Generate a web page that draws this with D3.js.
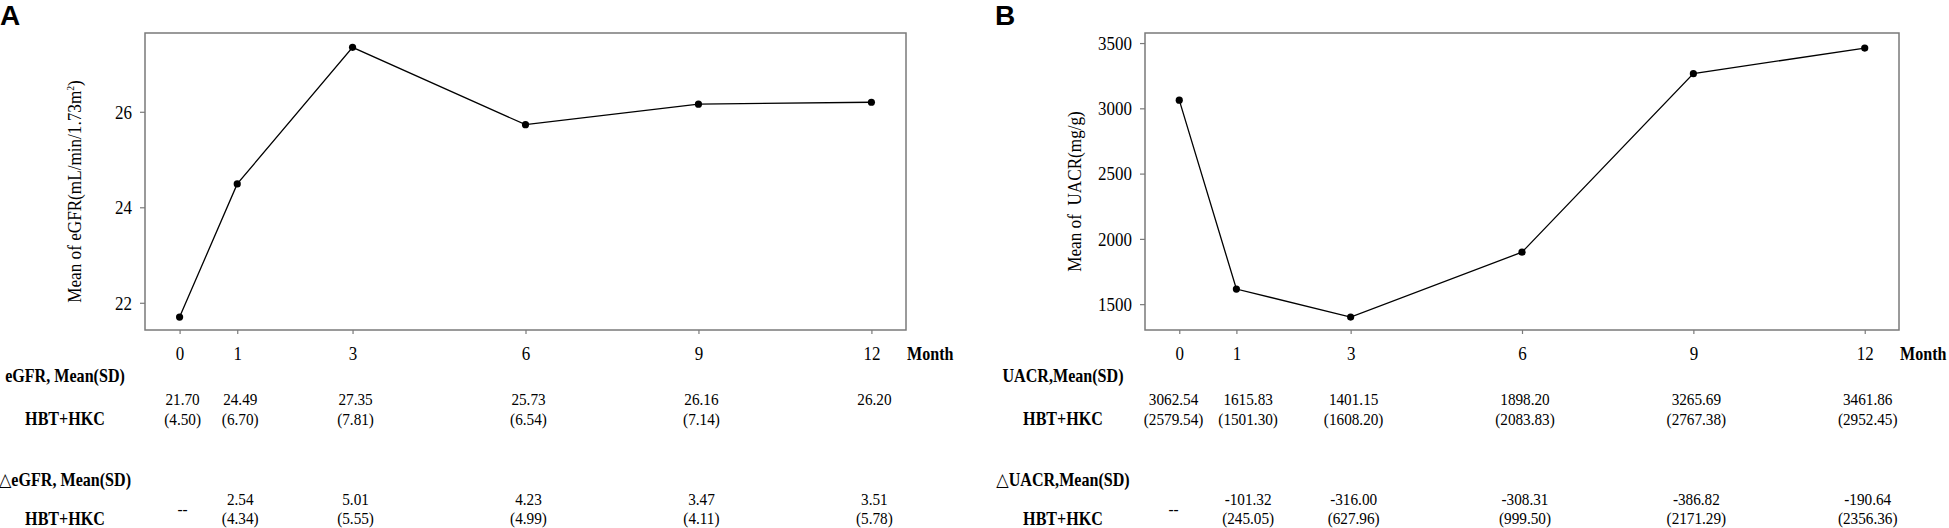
<!DOCTYPE html>
<html>
<head>
<meta charset="utf-8">
<script src="https://cdn.jsdelivr.net/npm/d3@7"></script>
<style>
  body { margin: 0; background: #fff; }
  svg { display: block; }
  .serif { font-family: "Liberation Serif", "Times New Roman", "DejaVu Serif", serif; fill: #000; }
  .axis path.domain { display: none; }
  .axis line { stroke: #7a7a7a; stroke-width: 1.2; }
</style>
</head>
<body>
<svg id="chart" width="1949" height="528"></svg>
<script>
var months = [0, 1, 3, 6, 9, 12];

var egfrMean = [21.70, 24.49, 27.35, 25.73, 26.16, 26.20];
var egfrSD = [4.50, 6.70, 7.81, 6.54, 7.14, null];
var egfrDelta = [null, 2.54, 5.01, 4.23, 3.47, 3.51];
var egfrDeltaSD = [null, 4.34, 5.55, 4.99, 4.11, 5.78];
var egfrTicks = [22, 24, 26];

var uacrMean = [3062.54, 1615.83, 1401.15, 1898.20, 3265.69, 3461.86];
var uacrSD = [2579.54, 1501.30, 1608.20, 2083.83, 2767.38, 2952.45];
var uacrDelta = [null, -101.32, -316.00, -308.31, -386.82, -190.64];
var uacrDeltaSD = [null, 245.05, 627.96, 999.50, 2171.29, 2356.36];
var uacrTicks = [1500, 2000, 2500, 3000, 3500];

var SX = 0.87
    , locale = d3.formatLocale({decimal: ".", thousands: ",", grouping: [3], currency: ["", ""], minus: "-"})
    , fmt = locale.format(".2f")
    , svg = d3.select("#chart");

function txt(g, x, y, s, o) {
    o = o || {};
    return g.append("text")
        .attr("class", "serif")
        .attr("transform", "translate(" + x + "," + y + ") rotate(" + (o.rot || 0) + ") scale(" + (o.sx || SX) + ",1)")
        .attr("text-anchor", o.anchor || "middle")
        .style("font-size", (o.size || 17.5) + "px")
        .style("font-weight", o.bold ? "bold" : "normal")
        .text(s);
}

function panel(cfg) {
    var g = svg.append("g");

    var x = d3.scaleLinear().domain([-0.6, 12.6]).range([cfg.left, cfg.right]);
    var y = d3.scaleLinear().domain(cfg.yDomain).range([cfg.bottom, cfg.top]);

    // panel letter
    g.append("text")
        .attr("x", cfg.letterX).attr("y", 25)
        .style("font-family", "'Liberation Sans', Arial, sans-serif")
        .style("font-weight", "bold")
        .style("font-size", "28px")
        .text(cfg.letter);

    var xAxis = d3.axisBottom(x)
        .tickValues(months)
        .tickSizeInner(4)
        .tickSizeOuter(0)
        .tickPadding(12)
        .tickFormat(d3.format("d"));

    var yAxis = d3.axisLeft(y)
        .tickValues(cfg.yTicks)
        .tickSizeInner(5)
        .tickSizeOuter(0)
        .tickPadding(8)
        .tickFormat(d3.format("d"));

    var gx = g.append("g")
        .attr("class", "axis axis--x")
        .attr("transform", "translate(0," + cfg.bottom + ")")
        .call(xAxis);

    var gy = g.append("g")
        .attr("class", "axis axis--y")
        .attr("transform", "translate(" + cfg.left + ",0)")
        .call(yAxis);

    [gx, gy].forEach(function(a) {
        a.selectAll("text")
            .attr("class", "serif")
            .attr("fill", "#000")
            .style("font-size", "19.5px")
            .attr("transform", "scale(" + SX + ",1)");
    });
    gy.selectAll("text").attr("x", -13 / SX);

    // frame
    g.append("rect")
        .attr("x", cfg.left).attr("y", cfg.top)
        .attr("width", cfg.right - cfg.left)
        .attr("height", cfg.bottom - cfg.top)
        .attr("fill", "none")
        .attr("stroke", "#7a7a7a")
        .attr("stroke-width", 1.5);

    txt(g, cfg.right + 1, 360, "Month", {anchor: "start", size: 18.5, bold: true});

    // y title
    var title = txt(g, cfg.left - 64, (cfg.top + cfg.bottom) / 2 + 10, "", {rot: -90, size: 19.5, sx: 0.88});
    title.text(cfg.title);
    if (cfg.sup) {
        title.append("tspan").attr("dy", -7).style("font-size", "11px").text(cfg.sup);
        title.append("tspan").attr("dy", 7).text(")");
    }

    // series
    var pts = months.map(function(m, i) { return {m: m, v: cfg.mean[i]}; });
    var line = d3.line()
        .x(function(d) { return x(d.m); })
        .y(function(d) { return y(d.v); });

    g.append("path")
        .datum(pts)
        .attr("fill", "none")
        .attr("stroke", "#000")
        .attr("stroke-width", 1.3)
        .attr("d", line);

    g.selectAll("circle.pt")
        .data(pts)
        .enter()
        .append("circle")
        .attr("class", "pt")
        .attr("cx", function(d) { return x(d.m); })
        .attr("cy", function(d) { return y(d.v); })
        .attr("r", 3.6)
        .attr("fill", "#000");

    // table labels
    txt(g, cfg.labelX, 382, cfg.label1, {size: 18.5, bold: true});
    txt(g, cfg.labelX, 425, "HBT+HKC", {size: 18.5, bold: true});
    txt(g, cfg.labelX, 486, cfg.label2, {size: 18.5, bold: true});
    txt(g, cfg.labelX, 524.5, "HBT+HKC", {size: 18.5, bold: true});

    // table values: rows of [array, baseline, wrap in parens]
    var rows = [
        [cfg.mean, 405, false],
        [cfg.sd, 425, true],
        [cfg.delta, 505, false],
        [cfg.deltaSD, 523.5, true]
    ];
    var cells = [], widths = months.map(function() { return 0; });
    rows.forEach(function(r) {
        r[0].forEach(function(v, i) {
            if (v == null) return;
            var s = r[2] ? "(" + fmt(v) + ")" : fmt(v);
            var t = txt(g, 0, 0, s, {size: 17.5});
            widths[i] = Math.max(widths[i], t.node().getComputedTextLength() * SX);
            cells.push({t: t, i: i, y: r[1]});
        });
    });
    // "--" for baseline change
    cfg.delta.forEach(function(v, i) {
        if (v != null) return;
        cells.push({t: txt(g, 0, 0, "--", {size: 17.5}), i: i, y: 515});
    });

    // push apart neighbouring columns that would collide
    var cx = months.map(function(m) { return x(m) + 3; });
    for (var i = 0; i < cx.length - 1; i++) {
        var gap = (cx[i + 1] - widths[i + 1] / 2) - (cx[i] + widths[i] / 2);
        if (gap < 15) {
            var s = (15 - gap) / 2;
            cx[i] -= s;
            cx[i + 1] += s;
        }
    }
    cells.forEach(function(c) {
        c.t.attr("transform", "translate(" + cx[c.i] + "," + c.y + ") scale(" + SX + ",1)");
    });
}

panel({
    letter: "A", letterX: 0,
    left: 145, right: 906, top: 33, bottom: 330,
    yDomain: [21.43, 27.65], yTicks: egfrTicks,
    mean: egfrMean, sd: egfrSD, delta: egfrDelta, deltaSD: egfrDeltaSD,
    title: "Mean of eGFR(mL/min/1.73m", sup: "2",
    label1: "eGFR, Mean(SD)", label2: "\u25B3eGFR, Mean(SD)",
    labelX: 65
});

panel({
    letter: "B", letterX: 995,
    left: 1145, right: 1899, top: 33, bottom: 330,
    yDomain: [1302, 3577], yTicks: uacrTicks,
    mean: uacrMean, sd: uacrSD, delta: uacrDelta, deltaSD: uacrDeltaSD,
    title: "Mean of\u00A0 UACR(mg/g)",
    label1: "UACR,Mean(SD)", label2: "\u25B3UACR,Mean(SD)",
    labelX: 1063
});
</script>
</body>
</html>
